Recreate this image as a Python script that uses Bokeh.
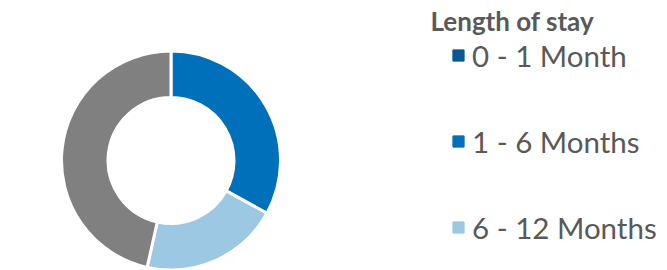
import numpy as np
from bokeh.plotting import figure
from bokeh.models import ColumnDataSource, Range1d, Legend, LegendItem, Label
from bokeh.embed import file_html
from bokeh.resources import INLINE

categories = ["0 - 1 Month", "1 - 6 Months", "6 - 12 Months", "Over 12 Months"]
values = [0, 33, 20.5, 46.5]
colors = ["#0b5794", "#0070ba", "#9dc8e4", "#808080"]
legend_title = "Length of stay"

W, H = 667, 270
p = figure(width=W, height=H, output_backend="svg", toolbar_location=None,
           x_range=Range1d(0, W), y_range=Range1d(0, H), min_border=0)
p.axis.visible = False
p.grid.visible = False
p.outline_line_color = None
p.background_fill_color = "white"

vals = np.array(values, dtype=float)
frac = vals / vals.sum()
cum = np.concatenate([[0], np.cumsum(frac)])
start = np.pi / 2 - cum[:-1] * 2 * np.pi
end = np.pi / 2 - cum[1:] * 2 * np.pi

src = ColumnDataSource(dict(cat=categories, color=colors, start=start, end=end))
p.annular_wedge(x=170.5, y=110, inner_radius=63, outer_radius=109.5,
                start_angle="start", end_angle="end", direction="clock",
                fill_color="color", line_color="white", line_width=3, source=src)

leg_src = ColumnDataSource(dict(x=[np.nan] * 3, y=[np.nan] * 3, color=colors[:3]))
sq = p.scatter(x="x", y="y", marker="square", fill_color="color", line_color="color",
               source=leg_src)

items = [LegendItem(label=categories[i], renderers=[sq], index=i) for i in range(3)]
legend = Legend(items=items, location=(444, 25), padding=0, margin=0,
                glyph_width=28, glyph_height=36, label_height=36, spacing=50,
                label_standoff=0, label_text_font="Lato", label_text_font_size="29.5px",
                label_text_color="#595959", border_line_color=None,
                background_fill_alpha=0)
p.add_layout(legend)

p.add_layout(Label(x=430, y=250, text=legend_title, text_font="Lato",
                   text_font_style="bold", text_font_size="26px",
                   text_color="#595959", text_baseline="alphabetic"))

open("out.html", "w").write(file_html(p, INLINE))
